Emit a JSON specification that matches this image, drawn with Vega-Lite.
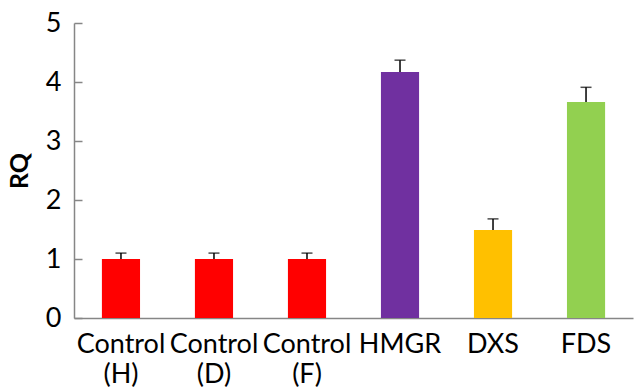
{
  "$schema": "https://vega.github.io/schema/vega-lite/v6.json",
  "width": 559,
  "height": 295,
  "autosize": {"type": "none"},
  "padding": {"left": 74, "top": 23, "right": 2, "bottom": 74},
  "background": "white",
  "config": {
    "view": {"stroke": null},
    "font": "Lato"
  },
  "data": {
    "values": [
      {"gene": "Control (H)", "rq": 1.0, "err": 0.10, "group": "Control"},
      {"gene": "Control (D)", "rq": 1.0, "err": 0.10, "group": "Control"},
      {"gene": "Control (F)", "rq": 1.0, "err": 0.10, "group": "Control"},
      {"gene": "HMGR", "rq": 4.17, "err": 0.20, "group": "HMGR"},
      {"gene": "DXS", "rq": 1.49, "err": 0.19, "group": "DXS"},
      {"gene": "FDS", "rq": 3.66, "err": 0.25, "group": "FDS"}
    ]
  },
  "transform": [{"calculate": "datum.rq + datum.err", "as": "hi"}],
  "encoding": {
    "x": {
      "field": "gene",
      "type": "nominal",
      "sort": null,
      "scale": {"paddingInner": 0.59, "paddingOuter": 0.3},
      "axis": {
        "title": null,
        "labelAngle": 0,
        "labelExpr": "split(datum.label, ' ')",
        "labelFontSize": 27,
        "labelColor": "#000000",
        "labelPadding": 13,
        "labelLineHeight": 30,
        "ticks": false,
        "domainColor": "#868686",
        "domainWidth": 1.5
      }
    }
  },
  "layer": [
    {
      "mark": {"type": "bar"},
      "encoding": {
        "y": {
          "field": "rq",
          "type": "quantitative",
          "scale": {"domain": [0, 5], "nice": false},
          "axis": {
            "title": "RQ",
            "titleFontSize": 25,
            "titleFontWeight": "bold",
            "titleColor": "#000000",
            "titlePadding": 13,
            "values": [0, 1, 2, 3, 4, 5],
            "format": "d",
            "labelFontSize": 27,
            "labelColor": "#000000",
            "labelPadding": 21,
            "tickSize": -8,
            "tickColor": "#868686",
            "tickWidth": 1.5,
            "domainColor": "#868686",
            "domainWidth": 1.5,
            "grid": false
          }
        },
        "color": {
          "field": "group",
          "type": "nominal",
          "scale": {
            "domain": ["Control", "HMGR", "DXS", "FDS"],
            "range": ["#FF0000", "#7030A0", "#FFC000", "#92D050"]
          },
          "legend": null
        }
      }
    },
    {
      "mark": {"type": "rule", "color": "#000000", "strokeWidth": 1.5},
      "encoding": {
        "y": {"field": "rq", "type": "quantitative"},
        "y2": {"field": "hi"}
      }
    },
    {
      "mark": {"type": "tick", "color": "#000000", "thickness": 1.5, "size": 11, "orient": "horizontal"},
      "encoding": {
        "y": {"field": "hi", "type": "quantitative"}
      }
    }
  ]
}
